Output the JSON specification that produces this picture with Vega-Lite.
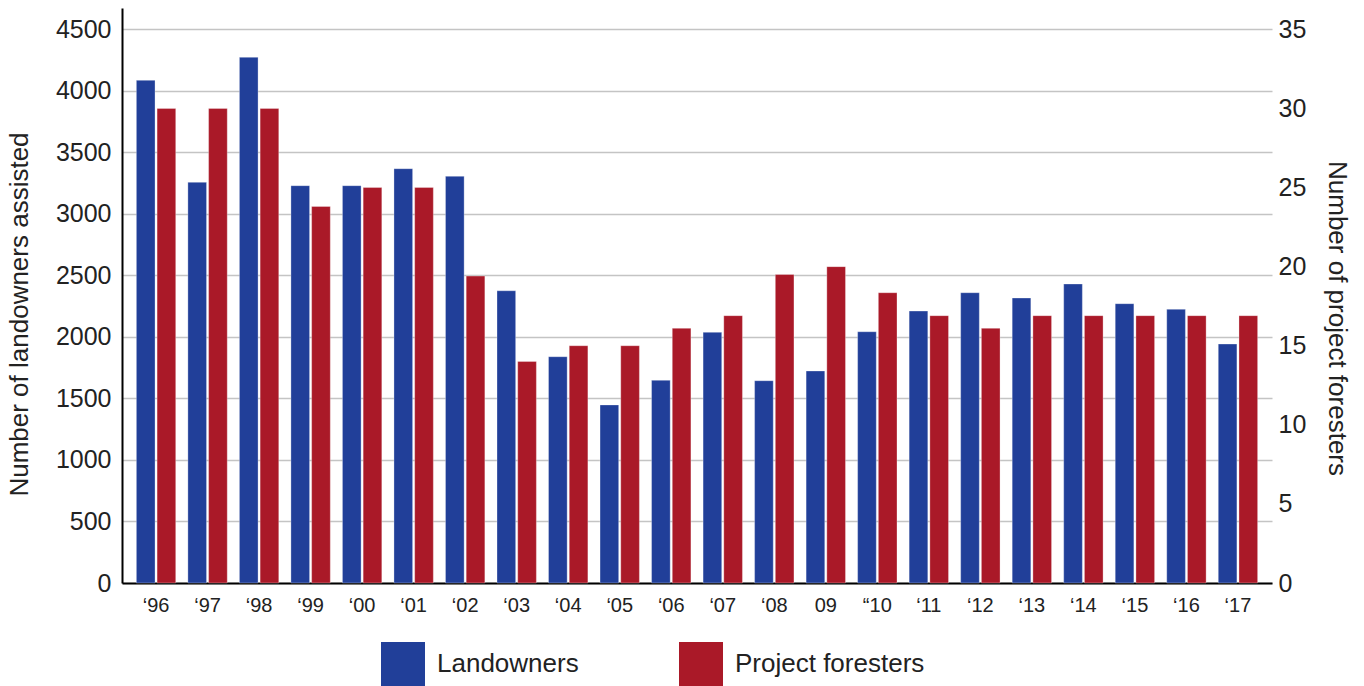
{
  "$schema": "https://vega.github.io/schema/vega-lite/v6.json",
  "width": 1150,
  "height": 575,
  "autosize": {"type": "none"},
  "padding": {"left": 122, "top": 8, "right": 92, "bottom": 103},
  "background": "white",
  "config": {
    "view": {"stroke": null},
    "font": "Liberation Sans",
    "axis": {"labelFont": "Liberation Sans", "titleFont": "Liberation Sans", "labelColor": "#222222", "titleColor": "#222222", "titleFontWeight": "normal", "ticks": false},
    "legend": {"labelFont": "Liberation Sans", "labelColor": "#222222"}
  },
  "data": {
    "values": [
      {"year": "‘96", "series": "Landowners", "value": 4085},
      {"year": "‘97", "series": "Landowners", "value": 3256},
      {"year": "‘98", "series": "Landowners", "value": 4272},
      {"year": "‘99", "series": "Landowners", "value": 3229},
      {"year": "‘00", "series": "Landowners", "value": 3229},
      {"year": "‘01", "series": "Landowners", "value": 3367},
      {"year": "‘02", "series": "Landowners", "value": 3305},
      {"year": "‘03", "series": "Landowners", "value": 2375},
      {"year": "‘04", "series": "Landowners", "value": 1839},
      {"year": "‘05", "series": "Landowners", "value": 1447},
      {"year": "‘06", "series": "Landowners", "value": 1647},
      {"year": "‘07", "series": "Landowners", "value": 2037},
      {"year": "‘08", "series": "Landowners", "value": 1644},
      {"year": "09", "series": "Landowners", "value": 1723},
      {"year": "“10", "series": "Landowners", "value": 2042},
      {"year": "‘11", "series": "Landowners", "value": 2210},
      {"year": "‘12", "series": "Landowners", "value": 2359},
      {"year": "‘13", "series": "Landowners", "value": 2316},
      {"year": "‘14", "series": "Landowners", "value": 2430},
      {"year": "‘15", "series": "Landowners", "value": 2270},
      {"year": "‘16", "series": "Landowners", "value": 2224},
      {"year": "‘17", "series": "Landowners", "value": 1942},
      {"year": "‘96", "series": "Project foresters", "value": 30},
      {"year": "‘97", "series": "Project foresters", "value": 30},
      {"year": "‘98", "series": "Project foresters", "value": 30},
      {"year": "‘99", "series": "Project foresters", "value": 23.8},
      {"year": "‘00", "series": "Project foresters", "value": 25},
      {"year": "‘01", "series": "Project foresters", "value": 25},
      {"year": "‘02", "series": "Project foresters", "value": 19.4},
      {"year": "‘03", "series": "Project foresters", "value": 14},
      {"year": "‘04", "series": "Project foresters", "value": 15},
      {"year": "‘05", "series": "Project foresters", "value": 15},
      {"year": "‘06", "series": "Project foresters", "value": 16.1},
      {"year": "‘07", "series": "Project foresters", "value": 16.9},
      {"year": "‘08", "series": "Project foresters", "value": 19.5},
      {"year": "09", "series": "Project foresters", "value": 20},
      {"year": "“10", "series": "Project foresters", "value": 18.35},
      {"year": "‘11", "series": "Project foresters", "value": 16.9},
      {"year": "‘12", "series": "Project foresters", "value": 16.1},
      {"year": "‘13", "series": "Project foresters", "value": 16.9},
      {"year": "‘14", "series": "Project foresters", "value": 16.9},
      {"year": "‘15", "series": "Project foresters", "value": 16.9},
      {"year": "‘16", "series": "Project foresters", "value": 16.9},
      {"year": "‘17", "series": "Project foresters", "value": 16.9}
    ]
  },
  "encoding": {
    "x": {
      "field": "year", "type": "nominal", "sort": null,
      "scale": {"paddingInner": 0.236, "paddingOuter": 0.279},
      "axis": {"title": null, "labelAngle": 0, "labelFontSize": 20, "labelPadding": 12, "domainColor": "#000000", "domainWidth": 2, "grid": false}
    },
    "xOffset": {"field": "series", "type": "nominal", "scale": {"domain": ["Landowners", "Project foresters"], "paddingInner": 0.1, "paddingOuter": 0}},
    "color": {
      "field": "series", "type": "nominal",
      "scale": {"domain": ["Landowners", "Project foresters"], "range": ["#213f99", "#aa1928"]},
      "legend": {"title": null, "orient": "none", "legendX": 259, "legendY": 634, "direction": "horizontal", "symbolType": "square", "symbolSize": 1936, "symbolStrokeWidth": 0, "symbolOpacity": 1, "labelFontSize": 26, "labelOffset": 12, "labelLimit": 500, "columnPadding": 100}
    }
  },
  "layer": [
    {
      "transform": [{"filter": "datum.series === 'Landowners'"}],
      "mark": {"type": "bar", "stroke": "#ffffff", "strokeWidth": 0.6, "strokeOpacity": 0.5},
      "encoding": {
        "y": {
          "field": "value", "type": "quantitative",
          "scale": {"domain": [0, 4673], "nice": false, "zero": true},
          "axis": {"orient": "left", "values": [0, 500, 1000, 1500, 2000, 2500, 3000, 3500, 4000, 4500], "format": "d", "grid": true, "gridColor": "#c4c4c4", "gridWidth": 1.5, "domain": true, "domainColor": "#000000", "domainWidth": 2, "labelFontSize": 25, "labelPadding": 11, "title": "Number of landowners assisted", "titleFontSize": 26, "titleAngle": -90, "titleX": -103, "titleY": 306, "titleAlign": "center", "titleBaseline": "middle"}
        }
      }
    },
    {
      "transform": [{"filter": "datum.series === 'Project foresters'"}],
      "mark": {"type": "bar", "stroke": "#ffffff", "strokeWidth": 0.6, "strokeOpacity": 0.5},
      "encoding": {
        "y": {
          "field": "value", "type": "quantitative",
          "scale": {"domain": [0, 36.35], "nice": false, "zero": true},
          "axis": {"orient": "right", "values": [0, 5, 10, 15, 20, 25, 30, 35], "format": "d", "grid": false, "domain": false, "labelFontSize": 25, "labelPadding": 6, "title": "Number of project foresters", "titleFontSize": 26, "titleAngle": 90, "titleX": 64, "titleY": 310, "titleAlign": "center", "titleBaseline": "middle"}
        }
      }
    }
  ],
  "resolve": {"scale": {"y": "independent"}, "axis": {"y": "independent"}}
}
